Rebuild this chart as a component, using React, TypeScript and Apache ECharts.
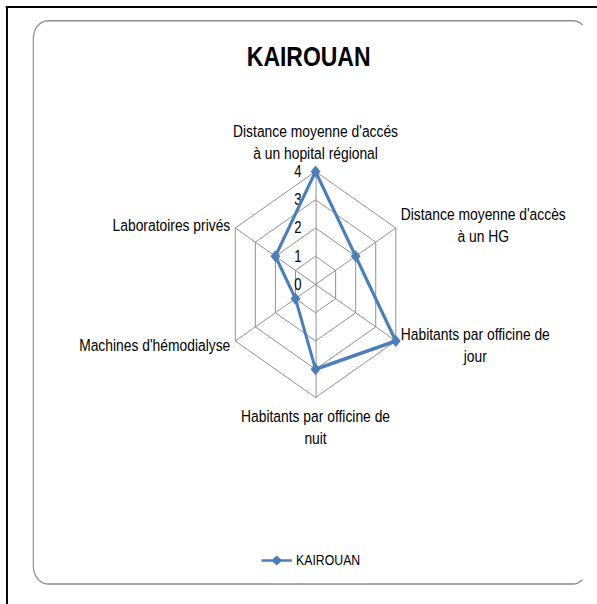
import React, { useEffect, useRef } from 'react';
import * as echarts from 'echarts';

// ---- data ----
const TITLE = 'KAIROUAN';
const SERIES_NAME = 'KAIROUAN';
// categories listed clockwise starting at the top
const categories = [
  "Distance moyenne d'accés\nà un hopital régional",
  "Distance moyenne d'accès\nà un HG",
  'Habitants par officine de\njour',
  'Habitants par officine de\nnuit',
  "Machines d'hémodialyse",
  'Laboratoires privés',
];
const values = [4, 2, 4, 3, 1, 2];
const axisMin = 0;
const axisMax = 4;
const axisSplits = 4;

// ---- layout (the reference picture is horizontally compressed) ----
const SX = 0.82;
const W = Math.round(597 / SX);
const H = 604;
const FONT = '"Liberation Sans", Arial, sans-serif';
const BLUE = '#4A7EBB';
const GRID = '#868686';
const NAME_SIZE = 16.9;
const NAME_LH = 22;

// rounded frame (clipped on its right side, as in the picture)
const FX0 = 40.6;
const FY0 = 20.7;
const FX1 = 716.6;
const FY1 = 584;
const FR = 18;
const FCLIP = 710.4;

function cornerPoints(cx: number, cy: number, a0: number, a1: number): number[][] {
  const pts: number[][] = [];
  const n = 12;
  for (let i = 0; i <= n; i++) {
    const a = a0 + ((a1 - a0) * i) / n;
    pts.push([cx + FR * Math.cos(a), cy + FR * Math.sin(a)]);
  }
  return pts;
}

export default function App() {
  const ref = useRef<HTMLDivElement>(null);

  useEffect(() => {
    document.body.style.margin = '0';
    document.body.style.overflow = 'hidden';
    if (!ref.current) return;
    const chart = echarts.init(ref.current, undefined, { renderer: 'svg' });

    // ECharts places indicators counter-clockwise: reorder so they read clockwise
    const order = [0, ...categories.map((_, i) => i).slice(1).reverse()];
    const indicator = order.map((i, k) => ({
      name: categories[i],
      min: axisMin,
      max: axisMax,
      ...(k === 0 ? { axisLabel: { show: true } } : {}),
    }));
    const data = order.map((i) => values[i]);

    const legendIcon =
      'path://M0,3.7 H13.5 L18.5,0 L23.5,3.7 H37 V6.3 H23.5 L18.5,10 L13.5,6.3 H0 Z';

    const frameStyle = { fill: 'none', stroke: '#8c8c8c', lineWidth: 1.4 };
    const clipAng = Math.acos((FCLIP - (FX1 - FR)) / FR);

    // open frame: top-right clipped corner -> top -> left -> bottom -> bottom-right clipped corner
    const framePts = [
      ...cornerPoints(FX1 - FR, FY0 + FR, -clipAng, -Math.PI / 2),
      ...cornerPoints(FX0 + FR, FY0 + FR, -Math.PI / 2, -Math.PI),
      ...cornerPoints(FX0 + FR, FY1 - FR, Math.PI, Math.PI / 2),
      ...cornerPoints(FX1 - FR, FY1 - FR, Math.PI / 2, clipAng),
    ];

    chart.setOption({
      animation: false,
      backgroundColor: '#ffffff',
      title: {
        text: TITLE,
        left: 301,
        top: 42,
        padding: 0,
        textStyle: { fontFamily: FONT, fontSize: 28, fontWeight: 'bold', color: '#000' },
      },
      legend: {
        data: [SERIES_NAME],
        left: 319,
        top: 553,
        padding: 0,
        itemWidth: 37,
        itemHeight: 10,
        icon: legendIcon,
        textStyle: { fontFamily: FONT, fontSize: 15, color: '#000' },
      },
      graphic: [
        {
          type: 'polyline',
          shape: { points: framePts },
          style: frameStyle,
        },
        {
          type: 'line',
          shape: { x1: 7, y1: 7, x2: W + 5, y2: 7 },
          style: { stroke: '#000', lineWidth: 2 },
        },
        {
          type: 'line',
          shape: { x1: 8.5, y1: 6, x2: 8.5, y2: H + 5 },
          style: { stroke: '#000', lineWidth: 2.4 },
        },
      ],
      radar: {
        center: [384.8, 284.5],
        radius: 113,
        startAngle: 90,
        shape: 'polygon',
        splitNumber: axisSplits,
        indicator,
        nameGap: 7,
        axisName: {
          color: '#000',
          fontFamily: FONT,
          fontSize: NAME_SIZE,
          lineHeight: NAME_LH,
          formatter: (name: string) =>
            name
              .split('\n')
              .map((l) => `{c|${l}}`)
              .join('\n'),
          rich: {
            c: {
              align: 'center',
              color: '#000',
              fontFamily: FONT,
              fontSize: NAME_SIZE,
              lineHeight: NAME_LH,
            },
          },
        },
        axisLine: { show: true, lineStyle: { color: GRID, width: 1 } },
        splitLine: { show: true, lineStyle: { color: GRID, width: 1 } },
        splitArea: { show: false },
        axisTick: { show: false },
        axisLabel: {
          show: false,
          color: '#000',
          fontFamily: FONT,
          fontSize: 16,
          margin: 17,
        },
      },
      series: [
        {
          type: 'radar',
          name: SERIES_NAME,
          symbol: 'diamond',
          symbolSize: 12,
          lineStyle: { color: BLUE, width: 3.6 },
          itemStyle: { color: BLUE },
          data: [{ value: data, name: SERIES_NAME }],
        },
      ],
    });

    return () => chart.dispose();
  }, []);

  return (
    <div
      style={{
        position: 'fixed',
        left: 0,
        top: 0,
        width: W,
        height: H,
        transform: `scaleX(${SX})`,
        transformOrigin: '0 0',
        background: '#fff',
      }}
    >
      <div ref={ref} style={{ width: W, height: H }} />
    </div>
  );
}
